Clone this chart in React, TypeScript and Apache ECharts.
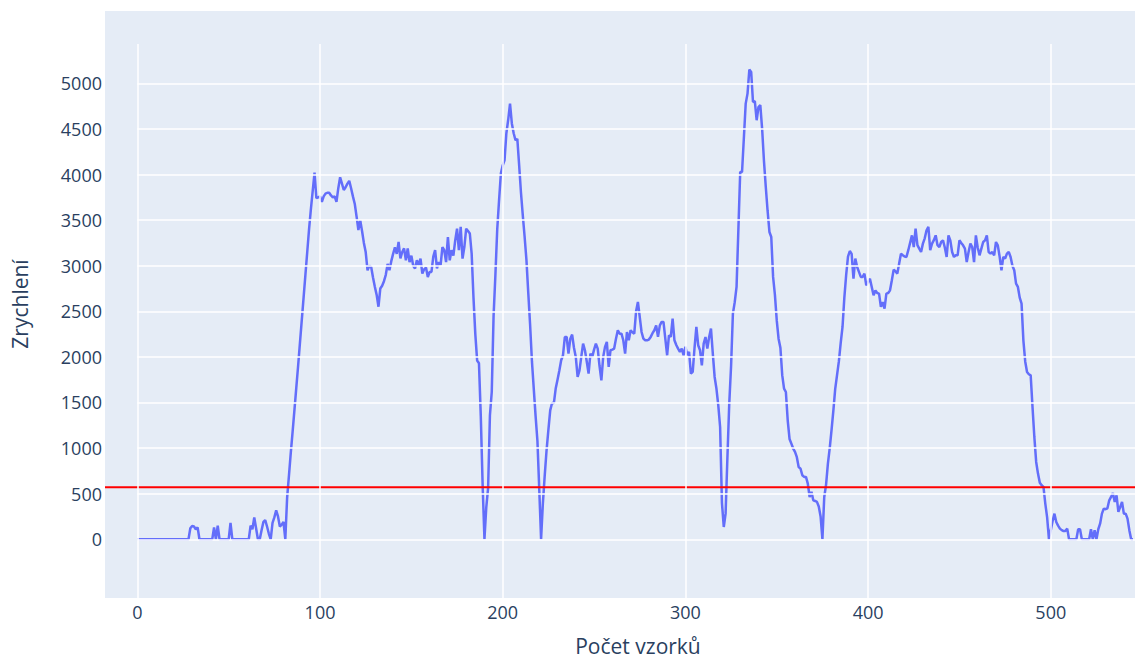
import React, { useEffect, useRef } from "react";
import * as echarts from "echarts";

// Acceleration samples (index = sample number)
const accel: number[] = [
  0, 0, 0, 0, 0, 0, 0, 0, 0, 0,
  0, 0, 0, 0, 0, 0, 0, 0, 0, 0,
  0, 0, 0, 0, 0, 0, 0, 0, 0, 120,
  145, 140, 110, 130, 0, 0, 0, 0, 0, 0,
  0, 0, 130, 0, 150, 0, 0, 0, 0, 0,
  0, 180, 0, 0, 0, 0, 0, 0, 0, 0,
  0, 0, 150, 110, 240, 120, 0, 0, 100, 190,
  210, 140, 60, 0, 180, 240, 318, 250, 140, 160,
  190, 0, 460, 700, 950, 1180, 1420, 1660, 1900, 2150,
  2400, 2650, 2900, 3150, 3400, 3620, 3820, 4020, 3740, 3750,
  3760, 3700, 3760, 3790, 3800, 3800, 3770, 3750, 3760, 3700,
  3850, 3970, 3900, 3830, 3860, 3900, 3930, 3850, 3760, 3680,
  3540, 3390, 3500, 3380, 3250, 3150, 2950, 3000, 2986, 2870,
  2770, 2680, 2550, 2750, 2780, 2830, 2900, 3020, 2950, 3050,
  3130, 3200, 3130, 3260, 3080, 3150, 3190, 3060, 3190, 3040,
  3110, 3000, 2970, 3060, 3005, 3077, 2914, 2960, 2980, 2876,
  2932, 2932, 3100, 3170, 2970, 3040, 3005, 3205, 3170, 3040,
  3315, 3059, 3170, 3110, 3278, 3406, 3170, 3425, 3077, 3205,
  3406, 3380, 3352, 3133, 2650, 2250, 1960, 1930, 1350, 600,
  0, 350, 560, 1360, 1615, 2450, 2900, 3400, 3717, 4013,
  4100, 4156, 4452, 4600, 4777, 4560, 4452, 4375, 4390, 4100,
  3800, 3550, 3315, 3059, 2700, 2350, 1950, 1650, 1350, 1080,
  550, 0, 400, 700, 976, 1200, 1414, 1494, 1494, 1652,
  1750, 1850, 1963, 2018, 2218, 2218, 2036, 2200, 2244, 2100,
  2000, 1780, 1850, 2000, 2146, 2073, 1950, 1817, 2036, 2000,
  2080, 2146, 2091, 1900, 1743, 2000, 2110, 2164, 1890, 2073,
  2080, 2091, 2200, 2292, 2255, 2255, 2182, 2036, 2273, 2182,
  2292, 2270, 2255, 2500, 2602, 2438, 2273, 2200, 2182, 2182,
  2190, 2219, 2260, 2292, 2346, 2219, 2346, 2383, 2383, 2200,
  2018, 2237, 2219, 2420, 2182, 2130, 2091, 2055, 2091, 2018,
  2110, 2018, 2055, 1817, 1835, 2100, 2328, 2128, 2073, 1908,
  2146, 2218, 2091, 2218, 2310, 2036, 1780, 1650, 1469, 1231,
  400, 135, 281, 900, 1488, 1900, 2475, 2600, 2767, 3400,
  4028, 4028, 4400, 4777, 4887, 5150, 5125, 4795, 4805, 4595,
  4740, 4760, 4500, 4150, 3863, 3600, 3370, 3315, 2877, 2680,
  2400, 2200, 2100, 1800, 1652, 1615, 1305, 1100, 1049, 995,
  958, 900, 793, 775, 702, 684, 684, 610, 464, 520,
  427, 420, 410, 360, 250, 0, 464, 600, 830, 1000,
  1200, 1414, 1650, 1800, 1950, 2150, 2328, 2650, 2900, 3100,
  3161, 3130, 2858, 3078, 2986, 2932, 2877, 2877, 2913, 2785,
  2822, 2858, 2767, 2675, 2730, 2700, 2694, 2548, 2600, 2529,
  2694, 2700, 2730, 2840, 2957, 2940, 2913, 3023, 3132, 3115,
  3100, 3096, 3170, 3250, 3333, 3205, 3406, 3225, 3187, 3150,
  3242, 3300, 3388, 3425, 3170, 3242, 3280, 3333, 3225, 3205,
  3260, 3278, 3200, 3096, 3333, 3278, 3150, 3096, 3114, 3114,
  3278, 3250, 3223, 3187, 3040, 3150, 3242, 3205, 3040, 3333,
  3200, 3114, 3187, 3260, 3278, 3333, 3150, 3132, 3150, 3114,
  3260, 3223, 3100, 2950, 3096, 3078, 3132, 3150, 3096, 3000,
  2950, 2803, 2767, 2650, 2584, 2182, 1950, 1835, 1810, 1798,
  1451, 1122, 848, 720, 620, 592, 574, 391, 240, 0,
  100, 200, 281, 190, 150, 117, 100, 90, 90, 117,
  0, 0, 0, 0, 0, 110, 110, 0, 0, 0,
  0, 0, 110, 0, 100, 0, 110, 171, 281, 336,
  330, 340, 427, 464, 508, 409, 482, 300, 354, 409,
  281, 281, 227, 100, 0, 0,
];

const threshold = 570;

const xTicks = [0, 100, 200, 300, 400, 500];
const yTicks = [0, 500, 1000, 1500, 2000, 2500, 3000, 3500, 4000, 4500, 5000];

const X_MIN = -17.7;
const X_MAX = 546.1;
const Y_MIN = -644;
const Y_MAX = 5793;
const Y_GRID_TOP = 5431;

const FONT = "'Open Sans', 'Noto Sans', sans-serif";
const TEXT_COLOR = "#2a3f5f";

export default function App() {
  const ref = useRef<HTMLDivElement>(null);

  useEffect(() => {
    if (!ref.current) return;
    const chart = echarts.init(ref.current, undefined, { renderer: "svg" });

    const seriesData = accel.map((v, i) => [i, v]);

    const gridLines: any[] = [];
    yTicks.forEach((v) => {
      gridLines.push([{ coord: [0, v] }, { coord: [X_MAX, v] }]);
    });
    xTicks.forEach((v) => {
      gridLines.push([{ coord: [v, Y_MIN] }, { coord: [v, Y_GRID_TOP] }]);
    });

    chart.setOption({
      animation: false,
      grid: {
        left: 105,
        top: 11,
        width: 1030,
        height: 587,
        show: true,
        backgroundColor: "#E5ECF6",
        borderWidth: 0,
        containLabel: false,
      },
      xAxis: {
        type: "value",
        min: X_MIN,
        max: X_MAX,
        axisLine: { show: false },
        axisTick: { show: false },
        splitLine: { show: false },
        axisLabel: {
          customValues: xTicks,
          formatter: (v: number) => String(v),
          color: TEXT_COLOR,
          fontFamily: FONT,
          fontSize: 18,
          margin: 5,
        },
      },
      yAxis: {
        type: "value",
        min: Y_MIN,
        max: Y_MAX,
        axisLine: { show: false },
        axisTick: { show: false },
        splitLine: { show: false },
        axisLabel: {
          customValues: yTicks,
          formatter: (v: number) => String(v),
          color: TEXT_COLOR,
          fontFamily: FONT,
          fontSize: 18,
          margin: 3,
        },
      },
      graphic: [
        {
          type: "text",
          x: 638,
          y: 646,
          style: {
            text: "Počet vzorků",
            fill: TEXT_COLOR,
            font: `21px ${FONT}`,
            lineHeight: 22,
            textAlign: "center",
            textVerticalAlign: "middle",
          },
        },
        {
          type: "text",
          x: 20,
          y: 304,
          rotation: Math.PI / 2,
          style: {
            text: "Zrychlení",
            fill: TEXT_COLOR,
            font: `21px ${FONT}`,
            textAlign: "center",
            textVerticalAlign: "middle",
          },
        },
      ],
      series: [
        {
          type: "line",
          data: [],
          z: 1,
          silent: true,
          markLine: {
            silent: true,
            symbol: "none",
            label: { show: false },
            lineStyle: { color: "#ffffff", width: 1.5, type: "solid" },
            emphasis: { disabled: true },
            data: gridLines,
          },
        },
        {
          type: "line",
          data: seriesData,
          z: 3,
          showSymbol: false,
          symbol: "none",
          lineStyle: { color: "#636efa", width: 2.5 },
          itemStyle: { color: "#636efa" },
        },
        {
          type: "line",
          data: [
            [X_MIN, threshold],
            [X_MAX, threshold],
          ],
          z: 4,
          showSymbol: false,
          symbol: "none",
          lineStyle: { color: "#ff0000", width: 2 },
        },
      ],
    });

    return () => chart.dispose();
  }, []);

  return (
    <div
      ref={ref}
      style={{ position: "absolute", left: 0, top: 0, width: 1135, height: 660 }}
    />
  );
}
